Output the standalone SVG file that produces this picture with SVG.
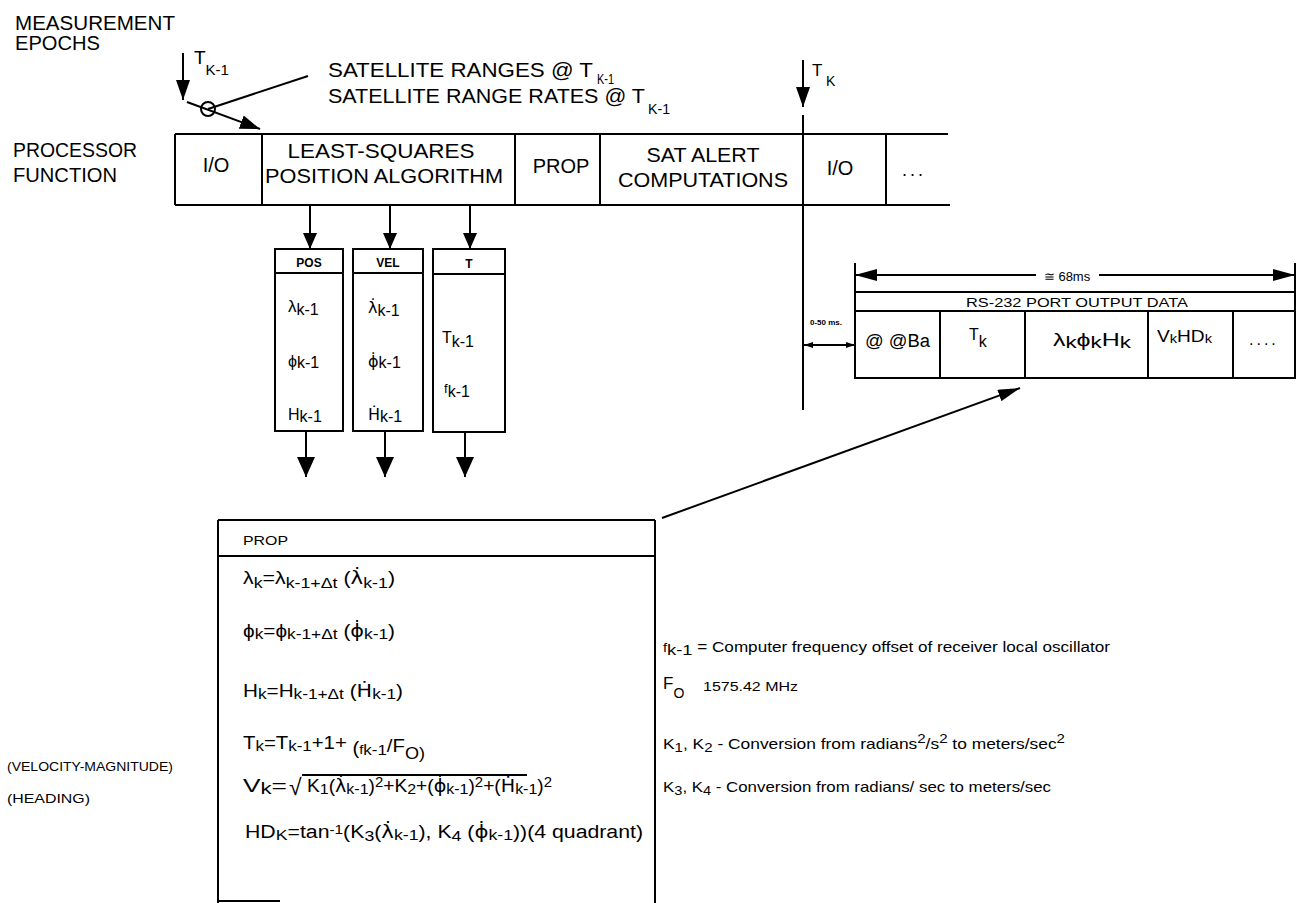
<svg xmlns="http://www.w3.org/2000/svg" width="1304" height="903" viewBox="0 0 1304 903">
<style>
text{font-family:"Liberation Sans",Arial,Helvetica,sans-serif;fill:#000}
.ln{stroke:#000;stroke-width:2;fill:none}
.bx{fill:none;stroke:#000;stroke-width:2}
.c{text-anchor:middle}
.b20{font-size:20px}
.hd{font-size:12px;font-weight:bold}
.dv{font-family:"DejaVu Sans",sans-serif}
</style>
<defs>
<marker id="ah" viewBox="0 0 20 14" refX="20" refY="7" markerWidth="20" markerHeight="14" orient="auto" markerUnits="userSpaceOnUse"><path d="M0,0L20,7L0,14z"/></marker>
<marker id="ahL" viewBox="0 0 20 18" refX="20" refY="9" markerWidth="20" markerHeight="18" orient="auto" markerUnits="userSpaceOnUse"><path d="M0,0L20,9L0,18z"/></marker>
<marker id="ahM" viewBox="0 0 16 14" refX="16" refY="7" markerWidth="16" markerHeight="14" orient="auto" markerUnits="userSpaceOnUse"><path d="M0,0L16,7L0,14z"/></marker>
<marker id="ahD" viewBox="0 0 22 12" refX="22" refY="6" markerWidth="22" markerHeight="12" orient="auto" markerUnits="userSpaceOnUse"><path d="M0,0L22,6L0,12z"/></marker>
<marker id="ahS" viewBox="0 0 9 6" refX="9" refY="3" markerWidth="9" markerHeight="6" orient="auto-start-reverse" markerUnits="userSpaceOnUse"><path d="M0,0L9,3L0,6z"/></marker>
</defs>

<g id="labels-left">
<text x="15" y="30" class="b20" textLength="160" lengthAdjust="spacingAndGlyphs">MEASUREMENT</text>
<text x="15" y="50" class="b20" textLength="85" lengthAdjust="spacingAndGlyphs">EPOCHS</text>
<text x="13" y="157" class="b20" textLength="124" lengthAdjust="spacingAndGlyphs">PROCESSOR</text>
<text x="13" y="182" class="b20" textLength="104" lengthAdjust="spacingAndGlyphs">FUNCTION</text>
<text x="7" y="771" font-size="12" textLength="166" lengthAdjust="spacingAndGlyphs">(VELOCITY-MAGNITUDE)</text>
<text x="7" y="803" font-size="12" textLength="83" lengthAdjust="spacingAndGlyphs">(HEADING)</text>
</g>

<g id="epoch-tk1">
<text x="194" y="64" font-size="19">T<tspan font-size="15" dy="11">K-1</tspan></text>
<circle cx="208" cy="109" r="7" class="bx"/>
</g>

<g id="satellite-label">
<text x="328" y="77" font-size="20" textLength="265" lengthAdjust="spacingAndGlyphs">SATELLITE RANGES @ T</text>
<text x="597" y="84" font-size="14" textLength="17" lengthAdjust="spacingAndGlyphs">K-1</text>
<text x="328" y="103" font-size="20" textLength="317" lengthAdjust="spacingAndGlyphs">SATELLITE RANGE RATES @ T</text>
<text x="648" y="114" font-size="15" textLength="22" lengthAdjust="spacingAndGlyphs">K-1</text>
</g>

<g id="epoch-tk">
<text x="812" y="76" font-size="17">T</text>
<text x="826" y="86" font-size="14">K</text>
</g>

<g id="processor-bar">
<line class="ln" x1="175" y1="134" x2="948" y2="134"/>
<line class="ln" x1="175" y1="205" x2="950" y2="205"/>
<line class="ln" x1="175" y1="134" x2="175" y2="205"/>
<line class="ln" x1="262" y1="134" x2="262" y2="205"/>
<line class="ln" x1="515" y1="134" x2="515" y2="205"/>
<line class="ln" x1="600" y1="134" x2="600" y2="205"/>
<line class="ln" x1="886" y1="134" x2="886" y2="205"/>
<text x="216" y="172" class="b20 c">I/O</text>
<text x="381" y="158" class="b20 c" textLength="187" lengthAdjust="spacingAndGlyphs">LEAST-SQUARES</text>
<text x="384" y="183" class="b20 c" textLength="238" lengthAdjust="spacingAndGlyphs">POSITION ALGORITHM</text>
<text x="561" y="173" class="b20 c">PROP</text>
<text x="703" y="162" class="b20 c" textLength="113" lengthAdjust="spacingAndGlyphs">SAT ALERT</text>
<text x="703" y="187" class="b20 c" textLength="170" lengthAdjust="spacingAndGlyphs">COMPUTATIONS</text>
<text x="840" y="175" class="b20 c">I/O</text>
<text x="914" y="176" font-size="18" class="c" letter-spacing="3">...</text>
</g>

<g id="pos">
<rect class="bx" x="275" y="249" width="68" height="182"/>
<line class="ln" x1="275" y1="273" x2="343" y2="273"/>
<text x="309" y="267" class="hd c">POS</text>
<text x="288" y="312" font-size="17">λ<tspan font-size="16" dy="3">k-1</tspan></text>
<text x="288" y="367" font-size="16">ϕ<tspan font-size="16" dy="1">k-1</tspan></text>
<text x="288" y="420" font-size="16">H<tspan font-size="16" dy="2">k-1</tspan></text>
</g>

<g id="vel">
<rect class="bx" x="353" y="249" width="70" height="182"/>
<line class="ln" x1="353" y1="273" x2="423" y2="273"/>
<text x="388" y="267" class="hd c">VEL</text>
<text x="368" y="313" font-size="16"><tspan class="dv">λ̇</tspan><tspan font-size="16" dy="3">k-1</tspan></text>
<text x="368" y="367" font-size="16"><tspan class="dv">ϕ̇</tspan><tspan font-size="16" dy="1">k-1</tspan></text>
<text x="368" y="420" font-size="16"><tspan class="dv">Ḣ</tspan><tspan font-size="16" dy="2">k-1</tspan></text>
</g>

<g id="t">
<rect class="bx" x="433" y="249" width="72" height="183"/>
<line class="ln" x1="433" y1="274" x2="505" y2="274"/>
<text x="469" y="268" class="hd c">T</text>
<text x="442" y="343" font-size="16">T<tspan font-size="16" dy="4">k-1</tspan></text>
<text x="444" y="393" font-size="13">f<tspan font-size="16" dy="4">k-1</tspan></text>
</g>

<g id="rs232">
<text x="1067" y="281" font-size="13" class="c">≅ 68ms</text>
<line class="ln" x1="855" y1="263" x2="855" y2="293"/>
<line class="ln" x1="1295" y1="263" x2="1295" y2="293"/>
<rect class="bx" x="855" y="292" width="440" height="86"/>
<line class="ln" x1="855" y1="311" x2="1295" y2="311"/>
<text x="1077" y="307" font-size="13" class="c" textLength="222" lengthAdjust="spacingAndGlyphs">RS-232 PORT OUTPUT DATA</text>
<line class="ln" x1="940" y1="311" x2="940" y2="378"/>
<line class="ln" x1="1025" y1="311" x2="1025" y2="378"/>
<line class="ln" x1="1148" y1="311" x2="1148" y2="378"/>
<line class="ln" x1="1233" y1="311" x2="1233" y2="378"/>
<text x="865" y="347" font-size="18" textLength="65" lengthAdjust="spacingAndGlyphs">@ @Ba</text>
<text x="969" y="340" font-size="16">T<tspan font-size="16" dy="7">k</tspan></text>
<text x="1053" y="346" font-size="19" textLength="78" lengthAdjust="spacingAndGlyphs">λ<tspan font-size="17" dy="2">k</tspan><tspan dy="-2">ϕ</tspan><tspan font-size="17" dy="2">k</tspan><tspan dy="-2">H</tspan><tspan font-size="17" dy="2">k</tspan></text>
<text x="1157" y="342" font-size="17" textLength="55" lengthAdjust="spacingAndGlyphs">V<tspan font-size="13" dy="1">k</tspan><tspan dy="-1">HD</tspan><tspan font-size="13" dy="1">k</tspan></text>
<text x="1249" y="345" font-size="16" letter-spacing="3">....</text>
<text x="810" y="325" font-size="8" font-weight="bold">0-50 ms.</text>
</g>

<g id="prop-box">
<line class="ln" x1="218" y1="520" x2="655" y2="520"/>
<line class="ln" x1="218" y1="520" x2="218" y2="903"/>
<line class="ln" x1="655" y1="520" x2="655" y2="903"/>
<line class="ln" x1="218" y1="556" x2="655" y2="556"/>
<line class="ln" x1="218" y1="901" x2="280" y2="901"/>
<text x="243" y="545" font-size="13" textLength="45" lengthAdjust="spacingAndGlyphs">PROP</text>
<text x="243" y="584" font-size="18" textLength="152" lengthAdjust="spacingAndGlyphs">λ<tspan font-size="15" dy="4">k</tspan><tspan dy="-4">=λ</tspan><tspan font-size="15" dy="4">k-1+Δt</tspan><tspan dy="-4"> (</tspan><tspan class="dv">λ̇</tspan><tspan font-size="15" dy="4">k-1</tspan><tspan dy="-4">)</tspan></text>
<text x="243" y="637" font-size="18" textLength="152" lengthAdjust="spacingAndGlyphs">ϕ<tspan font-size="15" dy="2">k</tspan><tspan dy="-2">=ϕ</tspan><tspan font-size="15" dy="2">k-1+Δt</tspan><tspan dy="-2"> (</tspan><tspan class="dv">ϕ̇</tspan><tspan font-size="15" dy="2">k-1</tspan><tspan dy="-2">)</tspan></text>
<text x="243" y="697" font-size="18" textLength="160" lengthAdjust="spacingAndGlyphs">H<tspan font-size="15" dy="2">k</tspan><tspan dy="-2">=H</tspan><tspan font-size="15" dy="2">k-1+Δt</tspan><tspan dy="-2"> (</tspan><tspan class="dv">Ḣ</tspan><tspan font-size="15" dy="2">k-1</tspan><tspan dy="-2">)</tspan></text>
<text x="243" y="749" font-size="18" textLength="182" lengthAdjust="spacingAndGlyphs">T<tspan font-size="15" dy="2">k</tspan><tspan dy="-2">=T</tspan><tspan font-size="15" dy="2">k-1</tspan><tspan dy="-2">+1+ </tspan><tspan dy="5">(</tspan><tspan font-size="13">f</tspan><tspan font-size="15" dy="1">k-1</tspan><tspan dy="-3">/F</tspan><tspan font-size="16" dy="7">O)</tspan></text>
<text x="243" y="792" font-size="19" textLength="44" lengthAdjust="spacingAndGlyphs">V<tspan font-size="16" dy="2">k</tspan><tspan dy="-2">=</tspan></text>
<text x="289" y="795" font-size="23">√</text>
<line class="ln" x1="302" y1="775" x2="527" y2="775"/>
<text x="307" y="792" font-size="18" textLength="245" lengthAdjust="spacingAndGlyphs">K<tspan font-size="15" dy="2">1</tspan><tspan dy="-2">(</tspan><tspan class="dv">λ̇</tspan><tspan font-size="15" dy="2">k-1</tspan><tspan dy="-2">)</tspan><tspan font-size="14" dy="-5">2</tspan><tspan dy="5">+K</tspan><tspan font-size="15" dy="2">2</tspan><tspan dy="-2">+(</tspan><tspan class="dv">ϕ̇</tspan><tspan font-size="15" dy="2">k-1</tspan><tspan dy="-2">)</tspan><tspan font-size="14" dy="-5">2</tspan><tspan dy="5">+(</tspan><tspan class="dv">Ḣ</tspan><tspan font-size="15" dy="2">k-1</tspan><tspan dy="-2">)</tspan><tspan font-size="14" dy="-5">2</tspan></text>
<text x="245" y="838" font-size="18" textLength="398" lengthAdjust="spacingAndGlyphs">HD<tspan font-size="15" dy="2">K</tspan><tspan dy="-2">=tan</tspan><tspan font-size="13" dy="-4">-1</tspan><tspan dy="4">(K</tspan><tspan font-size="15" dy="3">3</tspan><tspan dy="-3">(</tspan><tspan class="dv">λ̇</tspan><tspan font-size="15" dy="2">k-1</tspan><tspan dy="-2">), K</tspan><tspan font-size="15" dy="3">4</tspan><tspan dy="-3"> (</tspan><tspan class="dv">ϕ̇</tspan><tspan font-size="15" dy="2">k-1</tspan><tspan dy="-2">))(4 quadrant)</tspan></text>
</g>

<g id="notes">
<text x="663" y="652" font-size="14" textLength="447" lengthAdjust="spacingAndGlyphs"><tspan font-size="12">f</tspan><tspan font-size="15" dy="3">k-1</tspan><tspan dy="-3"> = Computer frequency offset of receiver local oscillator</tspan></text>
<text x="663" y="689" font-size="17">F<tspan font-size="14" dy="9">O</tspan></text>
<text x="703" y="691" font-size="12" textLength="95" lengthAdjust="spacingAndGlyphs">1575.42 MHz</text>
<text x="663" y="749" font-size="15" textLength="402" lengthAdjust="spacingAndGlyphs">K<tspan font-size="13" dy="3">1</tspan><tspan dy="-3">, K</tspan><tspan font-size="13" dy="3">2</tspan><tspan dy="-3"> - Conversion from radians</tspan><tspan font-size="13" dy="-6">2</tspan><tspan dy="6">/s</tspan><tspan font-size="13" dy="-6">2</tspan><tspan dy="6"> to meters/sec</tspan><tspan font-size="13" dy="-6">2</tspan></text>
<text x="663" y="792" font-size="15" textLength="388" lengthAdjust="spacingAndGlyphs">K<tspan font-size="13" dy="3">3</tspan><tspan dy="-3">, K</tspan><tspan font-size="13" dy="3">4</tspan><tspan dy="-3"> - Conversion from radians/ sec to meters/sec</tspan></text>
</g>

<g id="connectors">
<line class="ln" x1="183" y1="53" x2="183" y2="100" marker-end="url(#ah)"/>
<line class="ln" x1="187" y1="102" x2="260" y2="129" marker-end="url(#ah)"/>
<line class="ln" x1="208" y1="109" x2="308" y2="76"/>
<line class="ln" x1="803" y1="60" x2="803" y2="107" marker-end="url(#ah)"/>
<line class="ln" x1="803" y1="115" x2="803" y2="410"/>
<line class="ln" x1="310" y1="205" x2="310" y2="249" marker-end="url(#ahM)"/>
<line class="ln" x1="390" y1="205" x2="390" y2="249" marker-end="url(#ahM)"/>
<line class="ln" x1="470" y1="205" x2="470" y2="249" marker-end="url(#ahM)"/>
<line class="ln" x1="306" y1="431" x2="306" y2="477" marker-end="url(#ahL)"/>
<line class="ln" x1="385" y1="431" x2="385" y2="477" marker-end="url(#ahL)"/>
<line class="ln" x1="465" y1="432" x2="465" y2="477" marker-end="url(#ahL)"/>
<line class="ln" x1="1036" y1="275" x2="855" y2="275" marker-end="url(#ahD)"/>
<line class="ln" x1="1099" y1="275" x2="1295" y2="275" marker-end="url(#ahD)"/>
<line class="ln" x1="804" y1="345" x2="855" y2="345" stroke-width="1.5" marker-start="url(#ahS)" marker-end="url(#ahS)"/>
<line class="ln" x1="662" y1="518" x2="1020" y2="388" marker-end="url(#ahD)"/>
</g>
</svg>
